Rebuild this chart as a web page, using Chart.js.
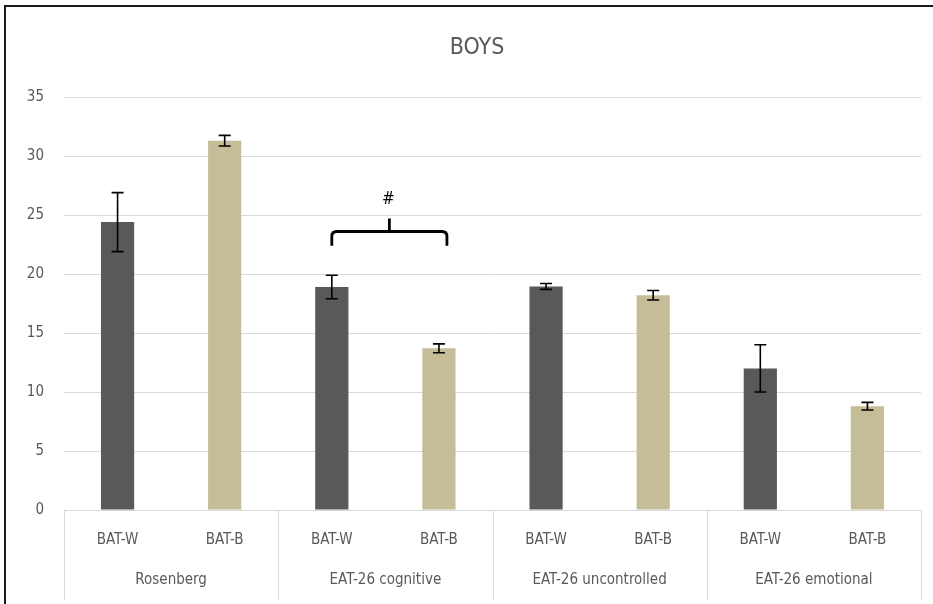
<!DOCTYPE html>
<html>
<head>
<meta charset="utf-8">
<script src="https://cdn.jsdelivr.net/npm/chart.js@4.4.1/dist/chart.umd.min.js"></script>
<style>
  html, body { margin: 0; padding: 0; background: #fff; }
  #wrap { width: 933px; height: 604px; }
</style>
</head>
<body>
<div id="wrap"><canvas id="boysChart" width="933" height="604"></canvas></div>
<script>
// Datos
const groups = ['Rosenberg', 'EAT-26 cognitive', 'EAT-26 uncontrolled', 'EAT-26 emotional'];
const subLabels = ['BAT-W', 'BAT-B'];
const batW = [24.4, 18.9, 18.95, 12.0];
const batB = [31.3, 13.7, 18.2, 8.8];
const errW = [2.5, 1.0, 0.25, 2.0];
const errB = [0.45, 0.38, 0.4, 0.32];
const yTicks = [0, 5, 10, 15, 20, 25, 30, 35];
const chartTitle = 'BOYS';

// Llave de significación entre BAT-W y BAT-B (EAT-26 cognitive)
const bracketGroup = 1;
const bracketLevel = 23.6;
const bracketEnd = 22.4;
const bracketPeak = 24.7;
const bracketMark = '#';
const bracketMarkLevel = 26.3;

const colorW = '#595959';
const colorB = '#c4bd97';
const textColor = '#595959';
const gridColor = '#d9d9d9';
const fontFamily = "'Liberation Sans Narrow', 'DejaVu Sans Condensed', 'Open Sans', sans-serif";

// Aplanar datos: 8 barras
const labels = [];
const values = [];
const errors = [];
const colors = [];
groups.forEach((g, i) => {
    labels.push(subLabels[0], subLabels[1]);
    values.push(batW[i], batB[i]);
    errors.push(errW[i], errB[i]);
    colors.push(colorW, colorB);
});

// Marco negro superior e izquierdo + título
const framePlugin = {
    id: 'frame',
    afterDraw(chart) {
        const ctx = chart.ctx;
        ctx.save();
        ctx.strokeStyle = '#1a1a1a';
        ctx.lineWidth = 2;
        ctx.beginPath();
        ctx.moveTo(5, 604);
        ctx.lineTo(5, 6);
        ctx.lineTo(933, 6);
        ctx.stroke();
        ctx.fillStyle = textColor;
        ctx.font = '23px ' + fontFamily;
        ctx.textAlign = 'center';
        ctx.textBaseline = 'middle';
        ctx.fillText(chartTitle, 477, 48);
        ctx.restore();
    }
};

// Barras de error
const errorBarPlugin = {
    id: 'errorBars',
    afterDatasetsDraw(chart) {
        const ctx = chart.ctx;
        const meta = chart.getDatasetMeta(0);
        const y = chart.scales.y;
        ctx.save();
        ctx.strokeStyle = '#000';
        ctx.lineWidth = 1.6;
        meta.data.forEach((bar, i) => {
            const v = values[i];
            const e = errors[i];
            const top = y.getPixelForValue(v + e);
            const bot = y.getPixelForValue(v - e);
            const x = bar.x;
            ctx.beginPath();
            ctx.moveTo(x, top);
            ctx.lineTo(x, bot);
            ctx.moveTo(x - 6, top);
            ctx.lineTo(x + 6, top);
            ctx.moveTo(x - 6, bot);
            ctx.lineTo(x + 6, bot);
            ctx.stroke();
        });
        ctx.restore();
    }
};

// Etiquetas de grupo y separadores del eje x
const groupAxisPlugin = {
    id: 'groupAxis',
    afterDraw(chart) {
        const ctx = chart.ctx;
        const area = chart.chartArea;
        const n = groups.length;
        const w = (area.right - area.left) / n;
        ctx.save();
        ctx.strokeStyle = gridColor;
        ctx.lineWidth = 1;
        for (let i = 0; i <= n; i++) {
            const x = Math.round(area.left + i * w) + 0.5;
            ctx.beginPath();
            ctx.moveTo(x, area.bottom);
            ctx.lineTo(x, 600);
            ctx.stroke();
        }
        ctx.fillStyle = textColor;
        ctx.font = '15px ' + fontFamily;
        ctx.textAlign = 'center';
        ctx.textBaseline = 'middle';
        groups.forEach((g, i) => {
            ctx.fillText(g, area.left + (i + 0.5) * w, 580);
        });
        ctx.restore();
    }
};

// Llave con "#"
const bracketPlugin = {
    id: 'bracket',
    afterDatasetsDraw(chart) {
        const ctx = chart.ctx;
        const meta = chart.getDatasetMeta(0);
        const y = chart.scales.y;
        const x1 = meta.data[bracketGroup * 2].x;
        const x2 = meta.data[bracketGroup * 2 + 1].x + 8;
        const xm = (x1 + x2) / 2;
        const yl = y.getPixelForValue(bracketLevel);
        const ye = y.getPixelForValue(bracketEnd);
        const yp = y.getPixelForValue(bracketPeak);
        const r = 5;
        ctx.save();
        ctx.strokeStyle = '#000';
        ctx.lineWidth = 2.8;
        ctx.beginPath();
        ctx.moveTo(x1, ye);
        ctx.lineTo(x1, yl + r);
        ctx.quadraticCurveTo(x1, yl, x1 + r, yl);
        ctx.lineTo(x2 - r, yl);
        ctx.quadraticCurveTo(x2, yl, x2, yl + r);
        ctx.lineTo(x2, ye);
        ctx.moveTo(xm, yl);
        ctx.lineTo(xm, yp);
        ctx.stroke();
        ctx.fillStyle = '#000';
        ctx.font = '17px ' + fontFamily;
        ctx.textAlign = 'center';
        ctx.textBaseline = 'middle';
        ctx.fillText(bracketMark, xm - 1, y.getPixelForValue(bracketMarkLevel));
        ctx.restore();
    }
};

new Chart(document.getElementById('boysChart').getContext('2d'), {
    type: 'bar',
    data: {
        labels: labels,
        datasets: [{
            data: values,
            backgroundColor: colors,
            barPercentage: 0.31,
            categoryPercentage: 1.0
        }]
    },
    options: {
        responsive: false,
        animation: false,
        layout: { padding: { left: 0, right: 12, top: 97, bottom: 0 } },
        plugins: {
            legend: { display: false },
            tooltip: { enabled: false },
            title: { display: false }
        },
        scales: {
            x: {
                grid: { display: false, drawTicks: false },
                border: { display: true, color: gridColor },
                ticks: { color: textColor, font: { family: fontFamily, size: 15 }, padding: 21 },
                afterFit(scale) { scale.height = 94; }
            },
            y: {
                min: 0,
                max: 35,
                afterBuildTicks(scale) { scale.ticks = yTicks.map(v => ({ value: v })); },
                grid: { color: gridColor, drawTicks: false },
                border: { display: false },
                ticks: { color: textColor, font: { family: fontFamily, size: 15 }, padding: 20 },
                afterFit(scale) { scale.width = 64; }
            }
        }
    },
    plugins: [framePlugin, errorBarPlugin, groupAxisPlugin, bracketPlugin]
});
</script>
</body>
</html>
